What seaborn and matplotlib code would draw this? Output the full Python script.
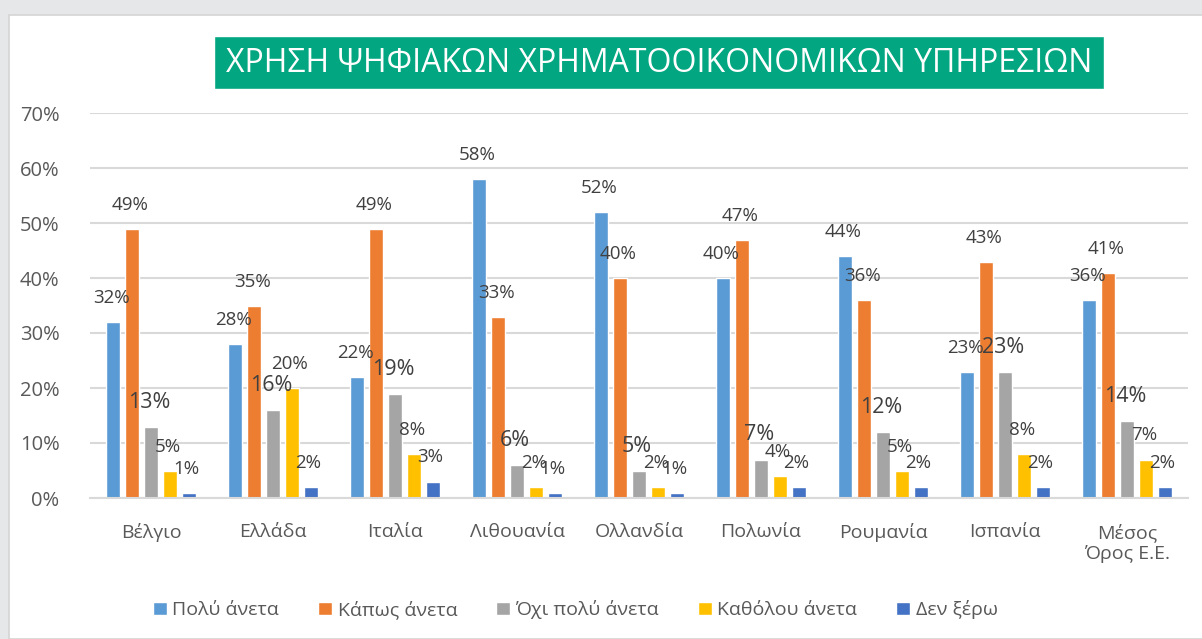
import pandas as pd
import numpy as np
import seaborn as sns
import matplotlib.pyplot as plt
from matplotlib.patches import Rectangle

# δεδομένα
countries = ["Βέλγιο", "Ελλάδα", "Ιταλία", "Λιθουανία", "Ολλανδία",
             "Πολωνία", "Ρουμανία", "Ισπανία", "Μέσος\nΌρος Ε.Ε."]
series = ["Πολύ άνετα", "Κάπως άνετα", "Όχι πολύ άνετα", "Καθόλου άνετα", "Δεν ξέρω"]
poly_aneta = [0.32, 0.28, 0.22, 0.58, 0.52, 0.40, 0.44, 0.23, 0.36]
kapws_aneta = [0.49, 0.35, 0.49, 0.33, 0.40, 0.47, 0.36, 0.43, 0.41]
oxi_poly = [0.13, 0.16, 0.19, 0.06, 0.05, 0.07, 0.12, 0.23, 0.14]
katholou = [0.05, 0.20, 0.08, 0.02, 0.02, 0.04, 0.05, 0.08, 0.07]
den_ksero = [0.01, 0.02, 0.03, 0.01, 0.01, 0.02, 0.02, 0.02, 0.02]
colors = ["#5B9BD5", "#ED7D31", "#A5A5A5", "#FFC000", "#4472C4"]
title = "ΧΡΗΣΗ ΨΗΦΙΑΚΩΝ ΧΡΗΜΑΤΟΟΙΚΟΝΟΜΙΚΩΝ ΥΠΗΡΕΣΙΩΝ"

values = [poly_aneta, kapws_aneta, oxi_poly, katholou, den_ksero]
df = pd.DataFrame({
    "country": np.tile(countries, len(series)),
    "series": np.repeat(series, len(countries)),
    "value": np.concatenate(values),
})

sns.set_style("white")
plt.rcParams['font.family'] = ['Open Sans', 'DejaVu Sans']

fig = plt.figure(figsize=(12.02, 6.39), dpi=100, facecolor="#e6e7e9")
# λευκό πλαίσιο
fig.patches.append(Rectangle((9 / 1202, 0), 1, 1 - 15 / 639, transform=fig.transFigure,
                             facecolor="white", edgecolor="#d4d4d4", lw=1.2, zorder=-10))

ax = fig.add_axes([90 / 1202, 1 - 498 / 639, (1188 - 90) / 1202, (498 - 113) / 639])
ax.set_facecolor("white")

sns.barplot(data=df, x="country", y="value", hue="series", palette=colors,
            width=0.77, gap=0.25, ax=ax, legend=True, saturation=1, errorbar=None)

ax.set_ylim(0, 0.70)
ax.set_yticks(np.arange(0, 0.71, 0.1))
ax.set_yticklabels([f"{int(round(v * 100))}%" for v in np.arange(0, 0.71, 0.1)])
ax.yaxis.grid(True, color="#d9d9d9", lw=1.5)
ax.set_axisbelow(True)
for s in ["top", "right", "left"]:
    ax.spines[s].set_visible(False)
ax.spines["bottom"].set_color("#d9d9d9")
ax.spines["bottom"].set_linewidth(1.5)
ax.tick_params(axis="y", length=0, pad=22, labelsize=14.5, labelcolor="#595959")
ax.tick_params(axis="x", length=0, pad=18, labelsize=14, labelcolor="#595959")
ax.set_xlabel("")
ax.set_ylabel("")

# ετικέτες δεδομένων
for i, cont in enumerate(ax.containers):
    big = i == 2
    for bar, v in zip(cont, values[i]):
        ax.annotate(f"{int(round(v * 100))}%",
                    (bar.get_x() + bar.get_width() / 2, bar.get_height()),
                    xytext=(-2, 14 if big else 15), textcoords="offset pixels",
                    ha="center", va="bottom", fontsize=15.5 if big else 13.5,
                    color="#404040")

leg = ax.legend(loc="center", bbox_to_anchor=(0.442, -0.29), ncol=5, frameon=False,
                fontsize=14, handlelength=0.7, handleheight=0.7, handletextpad=0.3,
                columnspacing=2.0)
for t in leg.get_texts():
    t.set_color("#595959")

# τίτλος
fig.patches.append(Rectangle((214 / 1202, 1 - 89 / 639), (1104 - 214) / 1202, 53 / 639,
                             transform=fig.transFigure, facecolor="#02a680", zorder=2))
fig.text(659 / 1202, 1 - 63 / 639, title, ha="center", va="center",
         fontsize=23, color="white", zorder=3)

fig.savefig("out.png", dpi=100, facecolor=fig.get_facecolor())
